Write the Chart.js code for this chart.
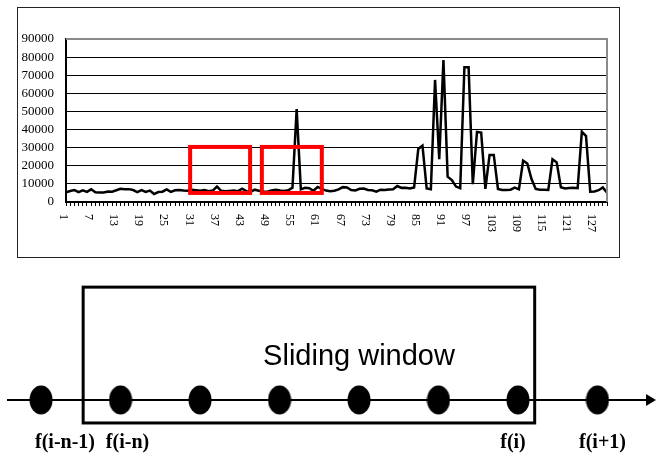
<!DOCTYPE html>
<html>
<head>
<meta charset="utf-8">
<script src="https://cdn.jsdelivr.net/npm/chart.js@4.4.0/dist/chart.umd.min.js"></script>
<style>
  body { margin: 0; background: #fff; width: 656px; height: 459px; position: relative; overflow: hidden; }
  #top-box { position: absolute; left: 17px; top: 7px; width: 601px; height: 249px; border: 1px solid #222; }
  #bottom-box { position: absolute; left: 0; top: 270px; width: 656px; height: 189px; }
</style>
</head>
<body>
<div id="top-box"><canvas id="myChart"></canvas></div>
<div id="bottom-box"><canvas id="windowChart"></canvas></div>
<script>
// series values (one per sample, 130 samples)
const categories = Array.from({ length: 130 }, (v, i) => String(i + 1));
const traffic = [
  5300, 6100, 6600, 5500, 6500, 5600, 7000, 5400, 5200, 5300,
  5800, 5700, 6500, 7300, 7000, 7100, 6600, 5500, 6600, 5600,
  6300, 4400, 5500, 5700, 6900, 5600, 6500, 6600, 6300, 6200,
  6800, 6500, 6200, 6600, 6000, 6300, 8500, 6200, 5900, 6100,
  6300, 6000, 7300, 6000, 5600, 6800, 6200, 5800, 5700, 6400,
  6800, 6300, 6100, 6500, 7900, 51300, 7000, 7800, 7600, 6200,
  8300, 7200, 6300, 6000, 6200, 7000, 8200, 8000, 6600, 6400,
  7300, 7400, 6600, 6500, 5700, 6800, 6600, 6900, 7000, 8800,
  7800, 7900, 7500, 8000, 29300, 31100, 7500, 7000, 67400, 23600,
  78400, 14000, 12100, 8500, 7600, 74400, 74400, 9800, 38700, 38300,
  7200, 26000, 26000, 7200, 6600, 6600, 6800, 7900, 7000, 22800,
  21300, 12700, 7200, 6800, 6700, 6600, 23600, 21900, 8100, 7500,
  7700, 7800, 7600, 38800, 36400, 5700, 5800, 6500, 8000, 5100
];
const labelEvery = 6;
const yMax = 90000;
const yStep = 10000;

// highlighted windows on the top chart (category index / value units)
const highlightBoxes = [
  { from: 29.6, to: 43.9, low: 5000, high: 30400 },
  { from: 46.7, to: 61.0, low: 5000, high: 30400 }
];

// sliding window diagram
const dotValues = [0, 1, 2, 3, 4, 5, 6, 7];
const dotLabels = ['f(i-n-1)', 'f(i-n)', '', '', '', '', 'f(i)', 'f(i+1)'];
const labelShift = [24, 7, 0, 0, 0, 0, -5, 5];
const windowBox = { from: 0.53, to: 6.21, top: 1.91, bottom: -0.39 };
const windowTitle = 'Sliding window';

const topPlugin = {
  id: 'topExtras',
  afterDatasetsDraw(chart) {
    const c = chart.ctx;
    const xs = chart.scales.x;
    const ys = chart.scales.y;
    const a = chart.chartArea;
    c.save();
    // grey frame top / right
    c.strokeStyle = '#8a8a8a';
    c.lineWidth = 2;
    c.beginPath();
    c.moveTo(a.left, a.top);
    c.lineTo(a.right, a.top);
    c.lineTo(a.right, a.bottom);
    c.stroke();
    // red boxes
    c.strokeStyle = '#ff0000';
    c.lineWidth = 4;
    highlightBoxes.forEach(function (b) {
      const x1 = xs.getPixelForValue(b.from);
      const x2 = xs.getPixelForValue(b.to);
      const y1 = ys.getPixelForValue(b.high);
      const y2 = ys.getPixelForValue(b.low);
      c.strokeRect(x1, y1, x2 - x1, y2 - y1);
    });
    c.restore();
  },
  afterDraw(chart) {
    const c = chart.ctx;
    const xs = chart.scales.x;
    const a = chart.chartArea;
    c.save();
    c.fillStyle = '#000';
    c.font = '12px "Liberation Serif"';
    c.textAlign = 'left';
    c.textBaseline = 'middle';
    categories.forEach(function (label, i) {
      if (i % labelEvery !== 0) return;
      c.save();
      c.translate(xs.getPixelForValue(i) - 3, a.bottom + 12);
      c.rotate(Math.PI / 2);
      c.fillText(label, 0, 0);
      c.restore();
    });
    c.restore();
  }
};

const ctx = document.getElementById('myChart');
new Chart(ctx, {
  type: 'line',
  data: {
    labels: categories,
    datasets: [{
      data: traffic,
      borderColor: '#000',
      borderWidth: 2.5,
      pointRadius: 0,
      tension: 0,
      fill: false
    }]
  },
  options: {
    responsive: true,
    maintainAspectRatio: false,
    animation: false,
    layout: { padding: { top: 31, right: 12, left: 0, bottom: 0 } },
    plugins: { legend: { display: false }, tooltip: { enabled: false } },
    scales: {
      x: {
        offset: false,
        grid: { drawOnChartArea: false, drawTicks: true, tickLength: 4, color: '#000', lineWidth: 1 },
        border: { color: '#000', width: 2 },
        ticks: { display: false, autoSkip: false },
        afterFit: function (s) { s.height = 55; }
      },
      y: {
        min: 0,
        max: yMax,
        ticks: {
          stepSize: yStep,
          autoSkip: false,
          color: '#000',
          font: { family: 'Liberation Serif', size: 13 },
          padding: 12,
          callback: function (v) { return String(v); }
        },
        grid: { color: '#000', lineWidth: 1, drawTicks: false },
        border: { color: '#000', width: 2 },
        afterFit: function (s) { s.width = 48; }
      }
    }
  },
  plugins: [topPlugin]
});

// ellipse used as point style
const dotImg = document.createElement('canvas');
dotImg.width = 24;
dotImg.height = 30;
(function () {
  const d = dotImg.getContext('2d');
  d.fillStyle = '#000';
  d.beginPath();
  d.ellipse(12, 15, 11.5, 14.5, 0, 0, Math.PI * 2);
  d.fill();
})();

const windowPlugin = {
  id: 'windowExtras',
  beforeDatasetsDraw(chart) {
    const c = chart.ctx;
    const xs = chart.scales.x;
    const ys = chart.scales.y;
    const y0 = ys.getPixelForValue(0);
    c.save();
    // axis with arrow
    c.strokeStyle = '#000';
    c.lineWidth = 2;
    c.beginPath();
    c.moveTo(7, y0);
    c.lineTo(648, y0);
    c.stroke();
    c.fillStyle = '#000';
    c.beginPath();
    c.moveTo(656, y0);
    c.lineTo(646, y0 - 6);
    c.lineTo(646, y0 + 6);
    c.closePath();
    c.fill();
    // window rectangle
    const x1 = xs.getPixelForValue(windowBox.from);
    const x2 = xs.getPixelForValue(windowBox.to);
    const y1 = ys.getPixelForValue(windowBox.top);
    const y2 = ys.getPixelForValue(windowBox.bottom);
    c.lineWidth = 3;
    c.strokeRect(x1, y1, x2 - x1, y2 - y1);
    // title
    c.font = '29px "Liberation Sans"';
    c.textAlign = 'center';
    c.textBaseline = 'alphabetic';
    c.fillText(windowTitle, xs.getPixelForValue(4), y0 - 35);
    // labels
    c.font = 'bold 20px "Liberation Serif"';
    dotLabels.forEach(function (label, i) {
      if (!label) return;
      c.fillText(label, xs.getPixelForValue(dotValues[i]) + labelShift[i], y0 + 48);
    });
    c.restore();
  }
};

new Chart(document.getElementById('windowChart'), {
  type: 'scatter',
  data: {
    datasets: [{
      data: dotValues.map(function (v) { return { x: v, y: 0 }; }),
      pointStyle: dotImg,
      pointRadius: 12,
      clip: false
    }]
  },
  options: {
    responsive: true,
    maintainAspectRatio: false,
    animation: false,
    layout: { padding: 0, autoPadding: false },
    plugins: { legend: { display: false }, tooltip: { enabled: false } },
    scales: {
      x: { type: 'linear', display: false, min: -0.516, max: 7.736 },
      y: { type: 'linear', display: false, min: -1, max: 2.2 }
    }
  },
  plugins: [windowPlugin]
});
</script>
</body>
</html>
